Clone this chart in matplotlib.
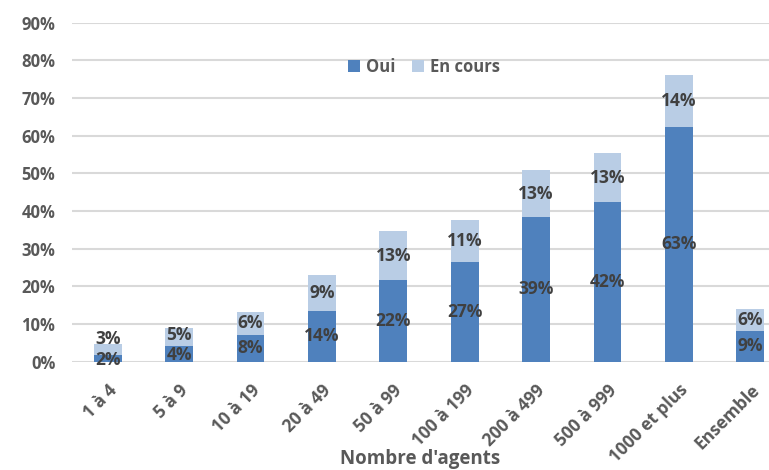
import matplotlib
matplotlib.use("Agg")
from matplotlib import pyplot as plt
import numpy as np

# data
categories = ["1 à 4", "5 à 9", "10 à 19", "20 à 49", "50 à 99", "100 à 199",
              "200 à 499", "500 à 999", "1000 et plus", "Ensemble"]
oui = [1.9, 4.2, 7.2, 13.5, 21.7, 26.5, 38.4, 42.3, 62.3, 8.2]
en_cours = [2.8, 4.8, 6.1, 9.4, 12.9, 11.2, 12.5, 13.0, 13.8, 5.9]
oui_labels = ["2%", "4%", "8%", "14%", "22%", "27%", "39%", "42%", "63%", "9%"]
en_cours_labels = ["3%", "5%", "6%", "9%", "13%", "11%", "13%", "13%", "14%", "6%"]

plt.rcParams['font.family'] = ['Open Sans', 'DejaVu Sans']

fig = plt.figure(figsize=(7.69, 4.70), dpi=100)
ax = fig.add_axes([72/769, 1 - 361.7/470, 1 - 72/769, (361.7 - 22.7)/470])

x = np.arange(len(categories))
w = 0.39
c_oui = "#4F81BD"
c_enc = "#B9CDE5"
ax.bar(x, oui, w, color=c_oui, label="Oui", zorder=3)
ax.bar(x, en_cours, w, bottom=oui, color=c_enc, label="En cours", zorder=3)

# labels in the middle of each segment, pushed apart when the segments are small
sep = 5.4
for i in range(len(x)):
    lo = oui[i] / 2
    hi = oui[i] + en_cours[i] / 2
    if hi - lo < sep:
        mid = (lo + hi) / 2
        lo = max(mid - sep / 2, 0.5)
        hi = lo + sep
    ax.text(x[i], lo, oui_labels[i], ha="center", va="center",
            fontsize=12.5, fontweight="bold", color="#404040", zorder=4)
    ax.text(x[i], hi, en_cours_labels[i], ha="center", va="center",
            fontsize=12.5, fontweight="bold", color="#404040", zorder=4)

ax.set_ylim(0, 90)
ax.set_xlim(-0.5, 9.5 - (786 - 769) / 71.3)
ax.set_yticks(np.arange(0, 91, 10))
ax.set_yticklabels([f"{v}%" for v in range(0, 91, 10)])
ax.yaxis.grid(True, color="#D9D9D9", linewidth=1.5, zorder=0)
for s in ax.spines.values():
    s.set_visible(False)
ax.tick_params(length=0)
ax.tick_params(axis="y", pad=12)
for t in ax.get_yticklabels():
    t.set_fontsize(12)
    t.set_fontweight("bold")
    t.set_color("#595959")

ax.set_xticks(x)
ax.set_xticklabels(categories, rotation=45, ha="right", rotation_mode="anchor",
                   fontsize=12.5, fontweight="bold", color="#595959")
ax.tick_params(axis="x", pad=14)
ax.set_xlabel("Nombre d'agents", fontsize=13.5, fontweight="bold", color="#595959")
ax.xaxis.set_label_coords(0.5, (361.7 - 459) / 339)
ax.xaxis.label.set_va("center")

leg = ax.legend(loc="upper center", bbox_to_anchor=(0.505, 0.94), ncol=2, frameon=False,
                handlelength=0.7, handleheight=0.7, handletextpad=0.35, columnspacing=1.0,
                prop={"size": 12, "weight": "bold"})
for t in leg.get_texts():
    t.set_color("#595959")

fig.savefig("out.png", dpi=100)
